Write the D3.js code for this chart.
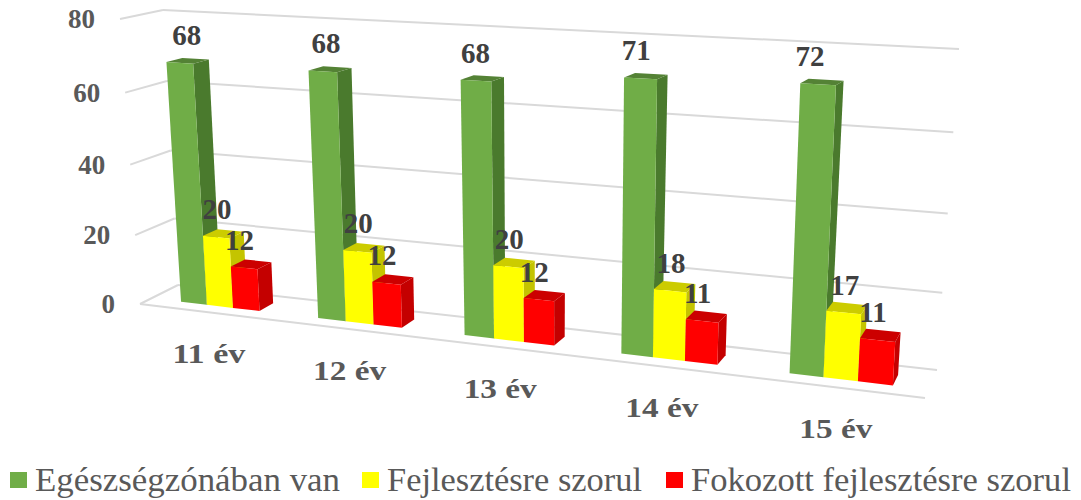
<!DOCTYPE html>
<html>
<head>
<meta charset="utf-8">
<script src="https://cdnjs.cloudflare.com/ajax/libs/d3/7.8.5/d3.min.js"></script>
<style>
  html, body { margin: 0; padding: 0; background: #fff; }
  svg { display: block; }
  text { font-family: "Liberation Serif", serif; }
</style>
</head>
<body>
<div id="chart"></div>
<script>
/* globals d3 */

const categories = ['11 év', '12 év', '13 év', '14 év', '15 év']
const egeszsegzona = [68, 68, 68, 71, 72]
const fejlesztes = [20, 20, 20, 18, 17]
const fokozott = [12, 12, 12, 11, 11]
const yTicks = [0, 20, 40, 60, 80]
const seriesNames = ['Egészségzónában van', 'Fejlesztésre szorul', 'Fokozott fejlesztésre szorul']

const width = 1081
const height = 500

// wall corners of the 3D box, as seen in the picture
const frontWall = {bl: [140, 304], br: [925, 398], tl: [120, 19], tr: [944, 60]}
const backWall = {bl: [178, 285], br: [937, 370], tl: [163, 10], tr: [959, 49]}

const series = [
  {values: egeszsegzona, front: '#70ad47', side: '#4a7a2d', top: '#548235'},
  {values: fejlesztes, front: '#ffff00', side: '#c4c400', top: '#cccc00'},
  {values: fokozott, front: '#ff0000', side: '#c40000', top: '#cc0000'}
]

const u0 = d3.scaleBand().domain(categories).range([0.003, 1.003]).paddingInner(0.42).paddingOuter(0.21)
const u1 = d3.scaleBand().domain(d3.range(series.length)).range([0, u0.bandwidth()])
const v = d3.scaleLinear().domain([0, 80]).range([0, 1])
const barDepth = [0.3, 0.68]

// unit square -> quad homography
function homography (q) {
  const [x0, y0] = q.bl
  const [x1, y1] = q.br
  const [x2, y2] = q.tr
  const [x3, y3] = q.tl
  const dx1 = x1 - x2
  const dx2 = x3 - x2
  const sx = x0 - x1 + x2 - x3
  const dy1 = y1 - y2
  const dy2 = y3 - y2
  const sy = y0 - y1 + y2 - y3
  const det = dx1 * dy2 - dx2 * dy1
  const g = (sx * dy2 - dx2 * sy) / det
  const h = (dx1 * sy - sx * dy1) / det
  return (s, t) => {
    const w = g * s + h * t + 1
    return [
      ((x1 - x0 + g * x1) * s + (x3 - x0 + h * x3) * t + x0) / w,
      ((y1 - y0 + g * y1) * s + (y3 - y0 + h * y3) * t + y0) / w
    ]
  }
}

const mix = (a, b, d) => [a[0] + (b[0] - a[0]) * d, a[1] + (b[1] - a[1]) * d]

function project (s, val, d) {
  const plane = {
    bl: mix(frontWall.bl, backWall.bl, d),
    br: mix(frontWall.br, backWall.br, d),
    tl: mix(frontWall.tl, backWall.tl, d),
    tr: mix(frontWall.tr, backWall.tr, d)
  }
  return homography(plane)(s, v(val))
}

const svg = d3.select('#chart').append('svg')
  .attr('width', width)
  .attr('height', height)

const line = d3.line()

// grid on back and side wall
const grid = svg.append('g').attr('class', 'grid')
grid.selectAll('path.back').data(yTicks).enter().append('path')
  .attr('class', 'back')
  .attr('d', d => line([project(0, d, 1), project(1, d, 1)]))
grid.selectAll('path.side').data(yTicks).enter().append('path')
  .attr('class', 'side')
  .attr('d', d => line([project(0, d, 0), project(0, d, 1)]))
grid.append('path')
  .attr('d', line([project(0, 0, 0), project(1, 0, 0)]))
grid.selectAll('path')
  .attr('fill', 'none')
  .attr('stroke', '#d9d9d9')
  .attr('stroke-width', 2)

// y labels
svg.append('g').selectAll('text').data(yTicks).enter().append('text')
  .attr('x', d => project(0, d, 0)[0] - 25)
  .attr('y', d => project(0, d, 0)[1] + 9)
  .attr('text-anchor', 'end')
  .attr('font-size', 27)
  .attr('font-weight', 'bold')
  .attr('fill', '#595959')
  .text(d => d)

// bars
const bars = svg.append('g').attr('class', 'bars')
categories.forEach((cat, i) => {
  series.forEach((s, j) => {
    const a = u0(cat) + u1(j)
    const b = a + u1.bandwidth()
    const val = s.values[i]
    const [d0, d1] = barDepth
    const g = bars.append('g')
    g.append('path')
      .attr('fill', s.side)
      .attr('d', line([project(b, 0, d0), project(b, 0, d1), project(b, val, d1), project(b, val, d0)]) + 'Z')
    g.append('path')
      .attr('fill', s.top)
      .attr('d', line([project(a, val, d0), project(b, val, d0), project(b, val, d1), project(a, val, d1)]) + 'Z')
    g.append('path')
      .attr('fill', s.front)
      .attr('d', line([project(a, 0, d0), project(b, 0, d0), project(b, val, d0), project(a, val, d0)]) + 'Z')
  })
})

// value labels
const labelDx = [i => 7 - 3.75 * i, () => 1, () => -4.5]
categories.forEach((cat, i) => {
  series.forEach((s, j) => {
    const mid = u0(cat) + u1(j) + u1.bandwidth() / 2
    const p = project(mid, s.values[i], barDepth[0])
    svg.append('text')
      .attr('x', p[0] + labelDx[j](i))
      .attr('y', p[1] - 18)
      .attr('text-anchor', 'middle')
      .attr('font-size', 29)
      .attr('font-weight', 'bold')
      .attr('fill', '#404040')
      .text(s.values[i])
  })
})

// category labels
svg.append('g').selectAll('text').data(categories).enter().append('text')
  .attr('x', d => project(u0(d) + u0.bandwidth() / 2, 0, 0)[0])
  .attr('y', d => project(u0(d) + u0.bandwidth() / 2, 0, 0)[1] + 51)
  .attr('text-anchor', 'middle')
  .attr('font-size', 27)
  .attr('font-weight', 'bold')
  .attr('fill', '#595959')
  .attr('textLength', 73)
  .attr('lengthAdjust', 'spacingAndGlyphs')
  .text(d => d)

// legend
const legendX = d3.scaleOrdinal().domain(seriesNames).range([10, 362, 666])
const legendText = d3.scaleOrdinal().domain(seriesNames).range([305, 255, 380])
const legend = svg.append('g').selectAll('g').data(seriesNames).enter().append('g')
  .attr('transform', d => 'translate(' + legendX(d) + ',0)')
legend.append('rect')
  .attr('y', 472)
  .attr('width', 17)
  .attr('height', 16)
  .attr('fill', (d, i) => series[i].front)
legend.append('text')
  .attr('x', 25)
  .attr('y', 491)
  .attr('font-size', 33)
  .attr('fill', '#595959')
  .attr('textLength', d => legendText(d))
  .attr('lengthAdjust', 'spacingAndGlyphs')
  .text(d => d)
</script>
</body>
</html>
